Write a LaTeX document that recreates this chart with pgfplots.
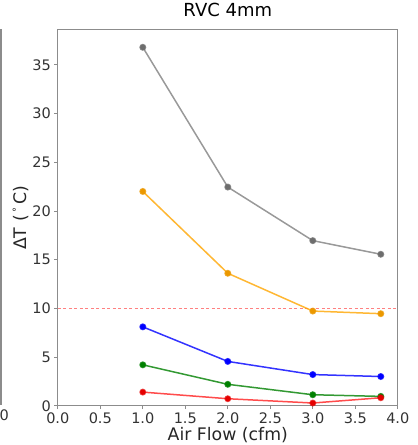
\documentclass[border=0pt]{standalone}
\usepackage{fontspec}
\setmainfont{DejaVu Sans}
\usepackage{pgfplots}
\pgfplotsset{compat=1.18}

\definecolor{mplgray}{RGB}{128,128,128}
\definecolor{mplorange}{RGB}{255,165,0}
\definecolor{mplblue}{RGB}{0,0,255}
\definecolor{mplgreen}{RGB}{0,128,0}
\definecolor{mplred}{RGB}{255,0,0}
\definecolor{spine}{RGB}{140,140,140}

\begin{document}
\begin{tikzpicture}[x=1pt,y=1pt]
\path[use as bounding box] (0,0) rectangle (418,445);

% edge of the neighbouring panel, cut off in the reference
\draw[spine, line width=1.2pt] (1,40.3) -- (1,416);
\node[anchor=base east, inner sep=0pt, text=black!80,
      font=\fontsize{14.5}{16}\selectfont] at (9,24) {0};

\begin{axis}[
    at={(68,40.3)},
    anchor=south west,
    scale only axis,
    width=340pt,
    height=376pt,
    xmin=0, xmax=4,
    ymin=0, ymax=38.6,
    xtick={0,0.5,...,4},
    ytick={0,5,...,35},
    xticklabel style={/pgf/number format/.cd, fixed, fixed zerofill, precision=1},
    /pgf/number format/assume math mode=true,
    tick label style={font=\fontsize{14.5}{16}\selectfont, text=black!80},
    tick align=outside,
    major tick length=3.5pt,
    tick style={spine, line width=0.8pt},
    xtick pos=bottom,
    ytick pos=left,
    axis line style={spine, line width=1.2pt},
    title={RVC 4mm},
    title style={at={(axis description cs:0.5,1)}, anchor=base,
                 yshift=7pt, font=\fontsize{18}{20}\selectfont},
    xlabel={Air Flow (cfm)},
    xlabel style={at={(axis description cs:0.5,0)}, anchor=base,
                  yshift=-35pt, font=\fontsize{17.3}{19}\selectfont, text=black!85},
    ylabel={ΔT (\,\raisebox{0.7ex}{\fontsize{10}{10}\selectfont°}\,C)},
    ylabel style={at={(axis description cs:-0.091,0.5)}, anchor=base,
                  font=\fontsize{17.3}{19}\selectfont, text=black!85},
    clip=false,
]

\addplot[mplred!50, line width=0.9pt, dash pattern=on 3pt off 2.5pt]
coordinates {(0,10) (4,10)};

\addplot[mplgray, line width=1.5pt, draw opacity=0.8,
         mark=*, mark size=2.7pt, mark options={solid, fill=mplgray!85!black, draw=mplgray!85!black}]
coordinates {(1,36.8) (2,22.45) (3,16.95) (3.8,15.55)};

\addplot[mplorange, line width=1.5pt, draw opacity=0.8,
         mark=*, mark size=2.7pt, mark options={solid, fill=mplorange!92!black, draw=mplorange!92!black}]
coordinates {(1,22.0) (2,13.6) (3,9.72) (3.8,9.45)};

\addplot[mplblue, line width=1.5pt, draw opacity=0.8,
         mark=*, mark size=2.7pt, mark options={solid, fill=mplblue, draw=mplblue}]
coordinates {(1,8.1) (2,4.55) (3,3.2) (3.8,3.0)};

\addplot[mplgreen, line width=1.5pt, draw opacity=0.8,
         mark=*, mark size=2.7pt, mark options={solid, fill=mplgreen, draw=mplgreen}]
coordinates {(1,4.2) (2,2.2) (3,1.13) (3.8,0.96)};

\addplot[mplred, line width=1.5pt, draw opacity=0.7,
         mark=*, mark size=2.7pt, mark options={solid, fill=mplred!90!black, draw=mplred!90!black}]
coordinates {(1,1.4) (2,0.72) (3,0.28) (3.8,0.82)};

\end{axis}
\end{tikzpicture}
\end{document}
